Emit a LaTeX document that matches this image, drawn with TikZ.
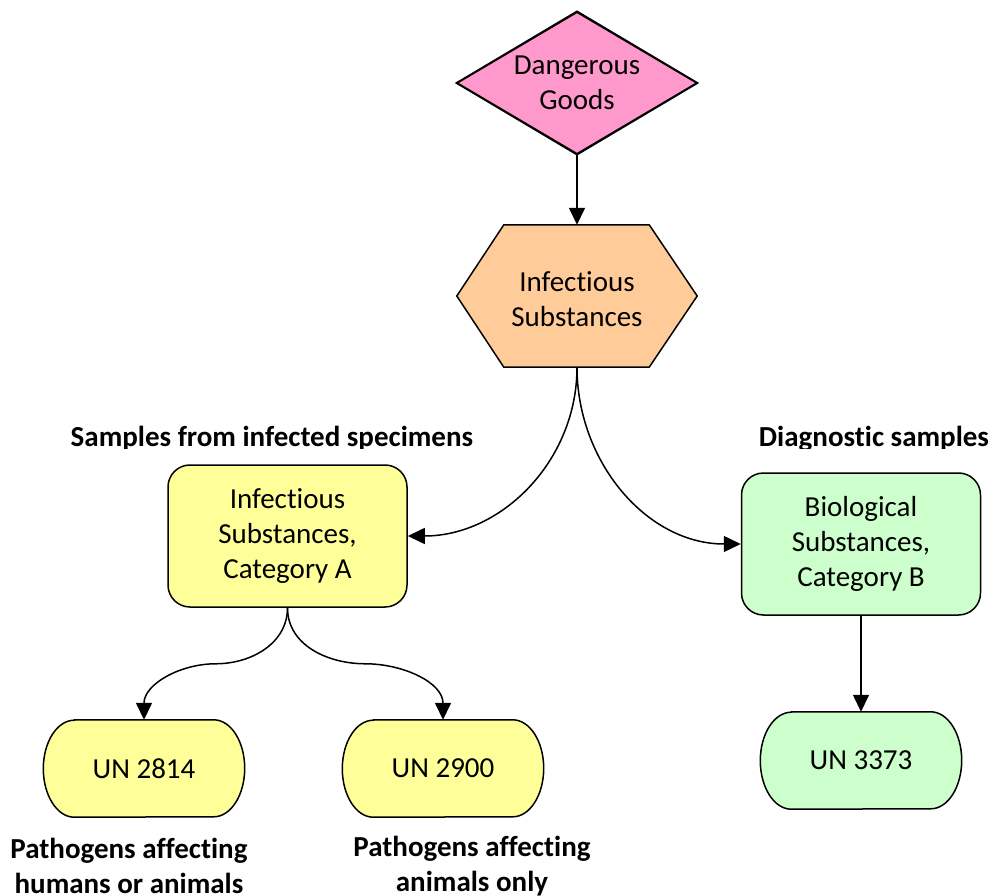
\documentclass[tikz,border=0pt]{standalone}
\usepackage{fontspec}
\setmainfont{Carlito}[RawFeature={-liga;-dlig;-clig}]
\usetikzlibrary{shapes.geometric,arrows.meta,calc,backgrounds}
\definecolor{pinkc}{HTML}{FF99CC}
\definecolor{peachc}{HTML}{FFCC99}
\definecolor{yelc}{HTML}{FFFF99}
\definecolor{grnc}{HTML}{CCFFCC}
\begin{document}
\begin{tikzpicture}[x=1pt,y=-1pt,
  every node/.style={font=\fontsize{29}{35}\selectfont, align=center, inner sep=0pt},
  ln/.style={line width=1.5pt},
  arr/.style={ln, -{Triangle[length=17pt,width=16pt]}},
  catbox/.style={draw, line width=1.5pt, rounded corners=22pt, minimum width=239pt, minimum height=142pt},
  term/.style={minimum width=201pt, minimum height=97pt},
  lbl/.style={font=\fontsize{29}{35}\selectfont\bfseries},
]
\useasboundingbox (0,0) rectangle (994,896);

% nodes
\node[diamond, draw, ln, fill=pinkc, minimum width=240pt, minimum height=142pt, aspect=1.69] (dg) at (577,83) {Dangerous\\Goods};
\node[minimum width=240pt, minimum height=142pt] (is) at (577,299) {Infectious\\Substances};
\node[catbox, fill=yelc] (ca) at (287.5,536) {Infectious\\Substances,\\Category A};
\node[catbox, fill=grnc] (cb) at (861,544) {Biological\\Substances,\\Category B};
\node[term] (u1) at (144,768.5) {UN 2814};
\node[term] (u2) at (443,768.5) {\raisebox{-4pt}{UN 2900}};
\node[term] (u3) at (861,760.5) {UN 3373};

\begin{scope}[on background layer]
  \draw[ln, fill=pinkc] (dg.north) -- (dg.east) -- (dg.south) -- (dg.west) -- cycle;
  \draw[ln, fill=peachc] ($(is.west)+(0,-3)$) -- ($(is.north west)+(47,-3)$) -- ($(is.north east)+(-48,-3)$) -- ($(is.east)+(0,-3)$)
     -- ($(is.south east)+(-48,-3)$) -- ($(is.south west)+(47,-3)$) -- cycle;
  \foreach \n/\c in {u1/yelc,u2/yelc,u3/grnc}{
    \draw[ln, fill=\c] ($(\n.north west)+(31,0)$) -- ($(\n.north east)+(-31,0)$)
      arc[start angle=90, end angle=-90, x radius=31pt, y radius=48.5pt]
      -- ($(\n.south west)+(31,0)$)
      arc[start angle=-90, end angle=-270, x radius=31pt, y radius=48.5pt] -- cycle;
  }
\end{scope}
\coordinate (isb) at ($(is.south)+(0,-3)$);
\coordinate (ist) at ($(is.north)+(0,-3)$);

% connectors
\draw[arr] (dg.south) -- (ist);
\draw[arr] (isb) to[out=-90,in=0] (ca.east);
\draw[arr] (isb) to[out=-90,in=180] (cb.west);
\coordinate (m1) at ($(ca.south)!0.5!(u1.north)$);
\coordinate (m2) at ($(ca.south)!0.5!(u2.north)$);
\draw[arr] (ca.south) to[out=-90,in=0] (m1) to[out=180,in=90] (u1.north);
\draw[arr] (ca.south) to[out=-90,in=180] (m2) to[out=0,in=90] (u2.north);
\draw[arr] (cb.south) -- (u3.north);

% labels
\begin{scope}
  \clip (0,0) rectangle (994,448);
  \node[lbl, anchor=base] (l1) at (272,446) {Samples from infected specimens};
  \node[lbl, anchor=base] (l2) at (874,446) {Diagnostic samples};
\end{scope}
\node[lbl, anchor=base] (l3) at (129,893) {Pathogens affecting\\humans or animals};
\node[lbl, anchor=base] (l4) at (472,891) {Pathogens affecting\\animals only};
\end{tikzpicture}
\end{document}
